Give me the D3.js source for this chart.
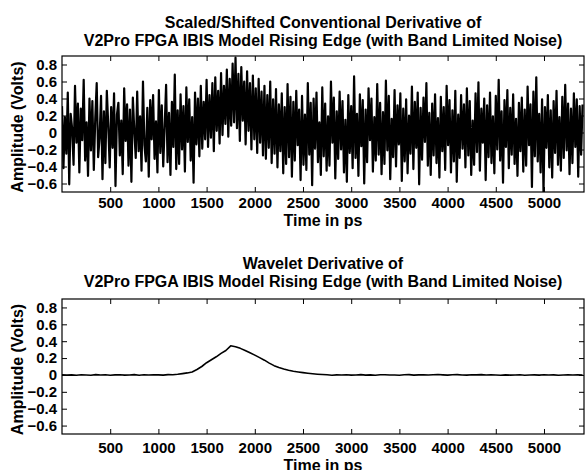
<!DOCTYPE html>
<html lang="en">
<head>
  <meta charset="UTF-8" />
  <title>Conventional vs Wavelet Derivative</title>
  <script src="https://d3js.org/d3.v7.min.js"></script>
  <style>
    body {
      margin: 0;
      padding: 0;
      background-color: #fff;
    }
    svg text {
      font-family: "Liberation Sans", Arial, sans-serif;
      font-weight: bold;
      font-size: 16px;
      fill: #000;
    }
  </style>
</head>
<body>
  <svg width="585" height="470"></svg>

  <script>
    // time axis
    const timeDomain = [0, 5415];
    const xTickValues = [500, 1000, 1500, 2000, 2500, 3000, 3500, 4000, 4500, 5000];
    const ampDomain = [-0.7, 0.9];
    const yTickValues = [-0.6, -0.4, -0.2, 0, 0.2, 0.4, 0.6, 0.8];

    // top plot: conventional derivative, one sample every 15 ps
    const noisyStep = 15;
    const noisyValues = [
      0.31, -0.42, 0.18, -0.25, 0.47, -0.61, 0.22, 0.05, -0.38, 0.55, -0.12, 0.34, -0.47, 0.28, -0.09, 0.62, -0.33, 0.12, -0.51, 0.40,
      -0.21, 0.37, -0.44, 0.16, 0.58, -0.29, -0.06, 0.43, -0.55, 0.25, -0.36, 0.49, 0.08, -0.41, 0.30, -0.18, 0.46, -0.63, 0.21, 0.35,
      -0.27, 0.14, -0.49, 0.52, -0.10, 0.33, -0.39, 0.27, -0.58, 0.41, 0.02, -0.30, 0.48, -0.22, 0.19, -0.45, 0.60, -0.15, -0.34, 0.29,
      -0.52, 0.38, -0.08, 0.44, -0.31, 0.13, -0.47, 0.50, -0.24, 0.32, -0.40, 0.07, 0.56, -0.35, 0.23, -0.50, 0.36, -0.17, 0.68, -0.43,
      0.26, -0.37, 0.45, -0.20, 0.31, -0.46, 0.53, -0.11, 0.39, -0.33, 0.18, -0.59, 0.47, -0.14, 0.40, -0.28, 0.55, -0.19, 0.36, -0.08,
      0.62, -0.17, 0.44, -0.06, 0.58, -0.22, 0.65, 0.02, 0.49, -0.13, 0.70, -0.03, 0.55, 0.10, 0.74, -0.05, 0.63, 0.08, 0.81, 0.12,
      0.88, 0.05, 0.69, -0.10, 0.77, 0.14, 0.60, -0.14, 0.72, 0.02, 0.58, -0.20, 0.67, -0.08, 0.52, -0.24, 0.63, -0.12, 0.48, -0.27,
      0.55, -0.31, 0.44, -0.18, 0.60, -0.36, 0.39, -0.25, 0.51, -0.41, 0.33, -0.22, 0.46, -0.48, 0.30, -0.37, 0.57, -0.29, 0.42, -0.52,
      0.36, -0.33, 0.49, -0.15, 0.27, -0.56, 0.43, -0.38, 0.21, -0.44, 0.58, -0.26, 0.35, -0.62, 0.40, -0.19, 0.47, -0.35, 0.12, -0.50,
      0.53, -0.28, 0.34, -0.45, 0.19, -0.39, 0.60, -0.12, 0.41, -0.54, 0.25, -0.31, 0.48, -0.20, 0.37, -0.47, 0.15, -0.58, 0.44, -0.24,
      0.31, -0.42, 0.66, -0.30, 0.22, -0.51, 0.45, -0.16, 0.38, -0.60, 0.27, -0.35, 0.52, -0.09, 0.40, -0.46, 0.18, -0.33, 0.57, -0.26,
      0.35, -0.49, 0.24, -0.37, 0.61, -0.21, 0.43, -0.55, 0.16, -0.29, 0.50, -0.40, 0.32, -0.14, 0.46, -0.57, 0.28, -0.34, 0.39, -0.48,
      0.20, -0.25, 0.54, -0.43, 0.36, -0.18, 0.47, -0.61, 0.29, -0.32, 0.41, -0.11, 0.58, -0.39, 0.23, -0.50, 0.34, -0.27, 0.45, -0.36,
      0.17, -0.53, 0.42, -0.22, 0.30, -0.44, 0.55, -0.15, 0.38, -0.47, 0.26, -0.34, 0.49, -0.58, 0.21, -0.30, 0.44, -0.19, 0.33, -0.41,
      0.52, -0.27, 0.37, -0.50, 0.14, -0.38, 0.46, -0.23, 0.59, -0.45, 0.28, -0.12, 0.40, -0.56, 0.32, -0.29, 0.47, -0.36, 0.19, -0.48,
      0.43, -0.20, 0.62, -0.33, 0.25, -0.59, 0.38, -0.17, 0.50, -0.42, 0.29, -0.26, 0.45, -0.37, 0.16, -0.51, 0.35, -0.22, 0.41, -0.46,
      0.27, -0.39, 0.54, -0.15, 0.33, -0.64, 0.48, -0.28, 0.65, -0.34, 0.22, -0.47, 0.39, -0.70, 0.30, -0.18, 0.44, -0.41, 0.26, -0.53,
      0.37, -0.24, 0.49, -0.38, 0.18, -0.45, 0.42, -0.30, 0.56, -0.21, 0.34, -0.49, 0.28, -0.36, 0.46, -0.17, 0.39, -0.52, 0.31, -0.26,
      0.33
    ];

    // bottom plot: wavelet derivative, one sample every 50 ps
    const waveletStep = 50;
    const waveletValues = [
      0.003, -0.002, 0.001, -0.004, 0.002, 0.000, -0.003, 0.004, -0.001, 0.002, -0.003, 0.001,
      0.003, -0.002, 0.000, 0.004, -0.003, 0.002, -0.001, 0.003, 0.001, -0.002, 0.004, 0.002,
      0.008, 0.016, 0.024, 0.035, 0.065, 0.10, 0.145, 0.18, 0.215, 0.255, 0.29, 0.345,
      0.335, 0.315, 0.29, 0.262, 0.235, 0.205, 0.175, 0.14, 0.11, 0.088, 0.07, 0.055,
      0.043, 0.035, 0.027, 0.02, 0.014, 0.009, 0.005,
      0.002, -0.003, 0.001, -0.001, 0.003, -0.002, 0.000, 0.004, -0.002, 0.001,
      -0.004, 0.002, 0.003, -0.001, 0.000, -0.003, 0.002, 0.004, -0.002, 0.001,
      0.003, -0.001, 0.002, 0.005, 0.001, -0.002, 0.003, 0.004, 0.000, -0.002,
      0.003, 0.001, 0.004, -0.001, 0.002, 0.000, -0.003, 0.001, -0.002, -0.001,
      0.002, -0.003, 0.000, 0.001, -0.002, 0.002, -0.001, 0.001, -0.003, 0.000,
      0.002, -0.001, 0.001, -0.002
    ];

    const svg = d3.select("svg");
    const left = 62, right = 584;

    function drawPanel(cfg) {
      const x = d3.scaleLinear().domain(timeDomain).range([left, right]);
      const y = d3.scaleLinear().domain(ampDomain).range([cfg.bottom, cfg.top]);
      const g = svg.append("g");

      // clip so the trace stays inside the box
      const clipId = "clip-" + cfg.name;
      g.append("clipPath").attr("id", clipId)
        .append("rect")
        .attr("x", left).attr("y", cfg.top)
        .attr("width", right - left).attr("height", cfg.bottom - cfg.top);

      const line = d3.line()
        .x((d, i) => x(i * cfg.step))
        .y(d => y(d));

      g.append("path")
        .datum(cfg.values)
        .attr("clip-path", "url(#" + clipId + ")")
        .attr("fill", "none")
        .attr("stroke", "#000")
        .attr("stroke-width", cfg.lineWidth)
        .attr("stroke-linejoin", "round")
        .attr("d", line);

      // axes with inward ticks, MATLAB style
      const tickLen = 5;
      g.append("g")
        .attr("transform", `translate(0,${cfg.bottom})`)
        .call(d3.axisBottom(x).tickValues(xTickValues).tickSizeInner(-tickLen).tickSizeOuter(0)
          .tickPadding(cfg.xPad).tickFormat(d3.format("d")));
      g.append("g")
        .attr("transform", `translate(0,${cfg.top})`)
        .call(d3.axisTop(x).tickValues(xTickValues).tickSizeInner(-tickLen).tickSizeOuter(0).tickFormat(""));
      g.append("g")
        .attr("transform", `translate(${left},0)`)
        .call(d3.axisLeft(y).tickValues(yTickValues).tickSizeInner(-tickLen).tickSizeOuter(0).tickPadding(5)
          .tickFormat(d => d === 0 ? "0" : d3.format(".1f")(d)));
      g.append("g")
        .attr("transform", `translate(${right},0)`)
        .call(d3.axisRight(y).tickValues(yTickValues).tickSizeInner(-tickLen).tickSizeOuter(0).tickFormat(""));

      g.selectAll(".domain").remove();
      g.selectAll(".tick line").attr("stroke", "#000");
      g.selectAll(".tick text")
        .style("font-family", '"Liberation Sans", Arial, sans-serif')
        .style("font-weight", "bold")
        .style("font-size", "15px")
        .attr("fill", "#000");

      g.append("rect")
        .attr("x", left).attr("y", cfg.top)
        .attr("width", right - left).attr("height", cfg.bottom - cfg.top)
        .attr("fill", "none").attr("stroke", "#000").attr("stroke-width", 1.2);

      const cx = (left + right) / 2;
      g.append("text").attr("x", cx).attr("y", cfg.top - cfg.titleGap - 18)
        .attr("text-anchor", "middle").text(cfg.title1);
      g.append("text").attr("x", cx).attr("y", cfg.top - cfg.titleGap)
        .attr("text-anchor", "middle").text(cfg.title2);
      g.append("text").attr("x", cx).attr("y", cfg.bottom + cfg.xLabelGap)
        .attr("text-anchor", "middle").text("Time in ps");
      g.append("text")
        .attr("transform", `translate(23,${(cfg.top + cfg.bottom) / 2 + 3}) rotate(-90)`)
        .attr("text-anchor", "middle").text("Amplitude (Volts)");
    }

    drawPanel({
      name: "top", top: 56, bottom: 192,
      values: noisyValues, step: noisyStep, lineWidth: 2.2,
      xPad: 5, xLabelGap: 34, titleGap: 10,
      title1: "Scaled/Shifted Conventional Derivative of",
      title2: "V2Pro FPGA IBIS Model Rising Edge (with Band Limited Noise)"
    });

    drawPanel({
      name: "bottom", top: 299, bottom: 434,
      values: waveletValues, step: waveletStep, lineWidth: 1.6,
      xPad: 8, xLabelGap: 37, titleGap: 12,
      title1: "Wavelet Derivative of",
      title2: "V2Pro FPGA IBIS Model Rising Edge (with Band Limited Noise)"
    });
  </script>
</body>
</html>
